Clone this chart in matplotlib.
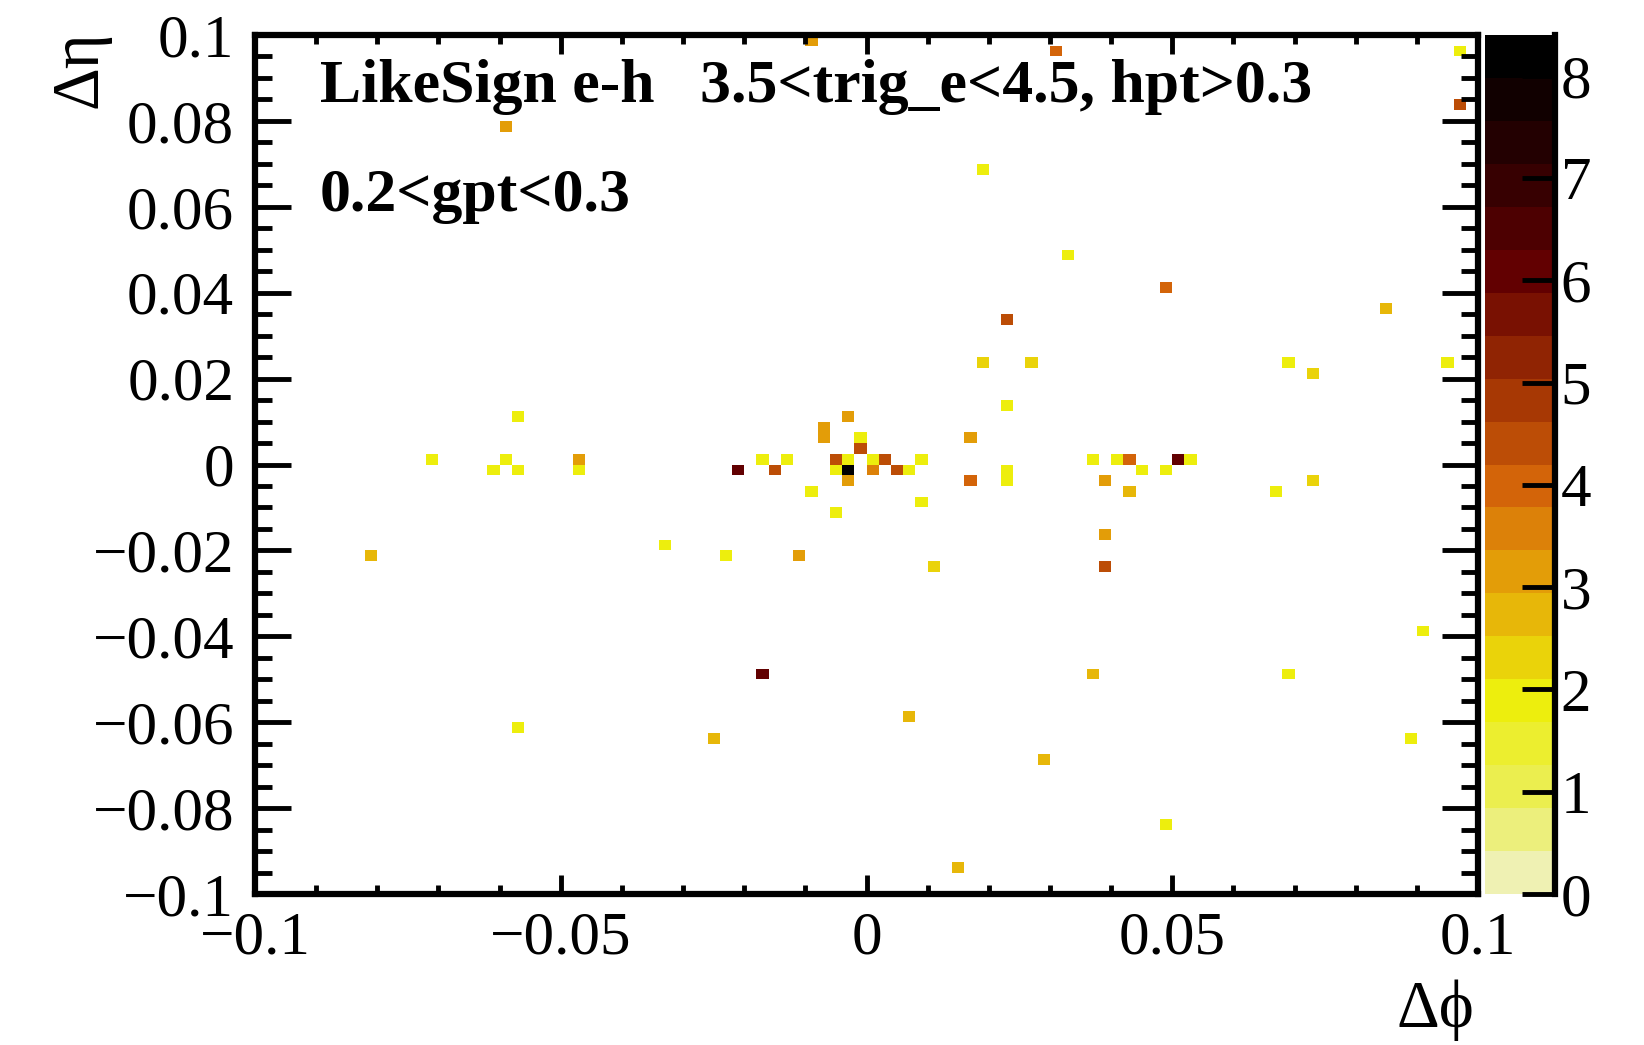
import numpy as np
import matplotlib
matplotlib.use("Agg")
import matplotlib.pyplot as plt
from matplotlib.colors import LinearSegmentedColormap, ListedColormap, BoundaryNorm
from matplotlib.ticker import MultipleLocator, FixedLocator

# ---------------- data (bin centres and contents) ----------------
dphi = [-0.057, -0.071, -0.059, -0.061, -0.057, -0.047, -0.047,
        -0.003, -0.007, -0.007, -0.001, -0.001, -0.017, -0.013, -0.005, -0.003,
        0.001, 0.003, 0.009, -0.021, -0.015, -0.005, -0.003, 0.001, 0.005, 0.007,
        -0.003, -0.009, 0.009, -0.005, -0.023, -0.011,
        0.023, 0.017, 0.017, 0.023, 0.023, 0.037, 0.041, 0.043, 0.051, 0.053,
        0.045, 0.049, 0.039, 0.043, 0.039, 0.039,
        -0.059, -0.009, 0.031, 0.097, 0.097, 0.019, 0.033, 0.049, 0.023, 0.085,
        0.019, 0.027, 0.069, 0.073, 0.095, 0.067, 0.073, -0.081, -0.033, 0.011,
        0.091, -0.017, 0.037, 0.069, -0.057, 0.007, -0.025, 0.089, 0.029, 0.049,
        0.015]
deta = [0.01125, 0.00125, 0.00125, -0.00125, -0.00125, 0.00125, -0.00125,
        0.01125, 0.00875, 0.00625, 0.00625, 0.00375, 0.00125, 0.00125, 0.00125, 0.00125,
        0.00125, 0.00125, 0.00125, -0.00125, -0.00125, -0.00125, -0.00125, -0.00125, -0.00125, -0.00125,
        -0.00375, -0.00625, -0.00875, -0.01125, -0.02125, -0.02125,
        0.01375, 0.00625, -0.00375, -0.00125, -0.00375, 0.00125, 0.00125, 0.00125, 0.00125, 0.00125,
        -0.00125, -0.00125, -0.00375, -0.00625, -0.01625, -0.02375,
        0.07875, 0.09875, 0.09625, 0.09625, 0.08375, 0.06875, 0.04875, 0.04125, 0.03375, 0.03625,
        0.02375, 0.02375, 0.02375, 0.02125, 0.02375, -0.00625, -0.00375, -0.02125, -0.01875, -0.02375,
        -0.03875, -0.04875, -0.04875, -0.04875, -0.06125, -0.05875, -0.06375, -0.06375, -0.06875, -0.08375,
        -0.09375]
content = [1.9, 1.9, 1.9, 2.0, 1.9, 3.0, 1.9,
           3.2, 3.0, 3.2, 2.0, 4.3, 2.0, 2.0, 4.4, 2.0,
           2.0, 4.4, 2.0, 6.0, 4.6, 2.0, 8.2, 3.5, 4.6, 2.0,
           3.2, 2.0, 2.0, 2.0, 2.0, 3.3,
           2.0, 3.3, 4.0, 1.9, 1.9, 2.0, 2.0, 4.0, 6.0, 2.0,
           2.0, 2.0, 3.2, 2.7, 3.2, 4.6,
           3.0, 3.0, 4.0, 1.8, 4.5, 2.0, 2.0, 4.0, 4.2, 2.6,
           2.4, 2.4, 1.9, 2.4, 1.8, 1.9, 2.2, 2.6, 1.9, 2.3,
           1.9, 6.0, 2.8, 1.9, 1.9, 2.8, 2.8, 1.9, 2.9, 1.9,
           2.9]

x_ticks = [-0.1, -0.05, 0.0, 0.05, 0.1]
x_ticklabels = ["\u22120.1", "\u22120.05", "0", "0.05", "0.1"]
y_ticks = [-0.1, -0.08, -0.06, -0.04, -0.02, 0.0, 0.02, 0.04, 0.06, 0.08, 0.1]
y_ticklabels = ["\u22120.1", "\u22120.08", "\u22120.06", "\u22120.04", "\u22120.02", "0",
                "0.02", "0.04", "0.06", "0.08", "0.1"]
z_ticks = [0, 1, 2, 3, 4, 5, 6, 7, 8]

title_left = "LikeSign e-h"
title_right = "3.5<trig_e<4.5, hpt>0.3"
title_second = "0.2<gpt<0.3"

# ---------------- histogram ----------------
x_edges = np.linspace(-0.1, 0.1, 101)
y_edges = np.linspace(-0.1, 0.1, 81)
H, _, _ = np.histogram2d(dphi, deta, bins=[x_edges, y_edges], weights=content)
H = np.ma.masked_equal(H.T, 0)

# ROOT kDarkBodyRadiator, inverted
red = [0, 45, 99, 156, 212, 230, 237, 234, 242]
green = [0, 0, 0, 45, 101, 168, 238, 238, 243]
blue = [0, 1, 1, 3, 9, 8, 11, 95, 230]
cols = [(r / 255, g / 255, b / 255) for r, g, b in zip(red, green, blue)][::-1]
base = LinearSegmentedColormap.from_list("dbr_inv", list(zip(np.linspace(0, 1, 9), cols)))
ncont = 20
zmax = 8.4
band_cols = [base(int((i + 0.99) * 255 / ncont) / 254) for i in range(ncont)]
cmap = ListedColormap(band_cols)
levels = np.linspace(0, zmax, ncont + 1)
norm = BoundaryNorm(levels, ncont)

plt.rcParams['font.family'] = ['Liberation Serif', 'DejaVu Serif']
FS = 44
FS_T = 44.5
FS_AX = 48

fig = plt.figure(figsize=(16.44, 10.45), dpi=100)
ax = fig.add_axes([255 / 1644, 1 - 894 / 1045, 1223 / 1644, 859 / 1045])
mesh = ax.pcolormesh(x_edges, y_edges, H, cmap=cmap, norm=norm)

ax.set_xlim(-0.1, 0.1)
ax.set_ylim(-0.1, 0.1)
ax.xaxis.set_major_locator(FixedLocator(x_ticks))
ax.set_xticklabels(x_ticklabels)
ax.yaxis.set_major_locator(FixedLocator(y_ticks))
ax.set_yticklabels(y_ticklabels)
ax.xaxis.set_minor_locator(MultipleLocator(0.01))
ax.yaxis.set_minor_locator(MultipleLocator(0.005))
ax.tick_params(which='both', direction='in', top=True, right=True, width=3.5, labelsize=FS)
ax.tick_params(axis='x', which='major', length=14, pad=12)
ax.tick_params(axis='x', which='minor', length=6.5)
ax.tick_params(axis='y', which='major', length=26, pad=15)
ax.tick_params(axis='y', which='minor', length=12)
for s in ax.spines.values():
    s.set_linewidth(4.5)

ax.text(0.053, 0.94, title_left, transform=ax.transAxes, fontsize=FS_T,
        fontweight='bold', va='center', ha='left')
ax.text(0.364, 0.94, title_right, transform=ax.transAxes, fontsize=FS_T,
        fontweight='bold', va='center', ha='left')
ax.text(0.053, 0.8126, title_second, transform=ax.transAxes, fontsize=FS_T,
        fontweight='bold', va='center', ha='left')

fig.text(80 / 1644, 1 - 30 / 1045, "\u0394\u03b7", rotation=90, ha='center', va='top', fontsize=FS_AX)
fig.text(1474 / 1644, 1 - 1010 / 1045, "\u0394\u03d5", ha='right', va='center', fontsize=FS_AX)

# colour bar
cax = fig.add_axes([1485 / 1644, 1 - 894 / 1045, 70 / 1644, 859 / 1045])
cb = fig.colorbar(mesh, cax=cax, boundaries=levels, ticks=z_ticks)
cb.outline.set_visible(False)
cax.plot([1, 1], [0, 1], transform=cax.transAxes, color='black', lw=4.5, clip_on=False)
cax.yaxis.set_ticks_position('right')
cax.tick_params(axis='y', direction='in', length=24, width=3.5, labelsize=FS, pad=4)
cax.minorticks_off()

fig.savefig("out.png", dpi=100)
